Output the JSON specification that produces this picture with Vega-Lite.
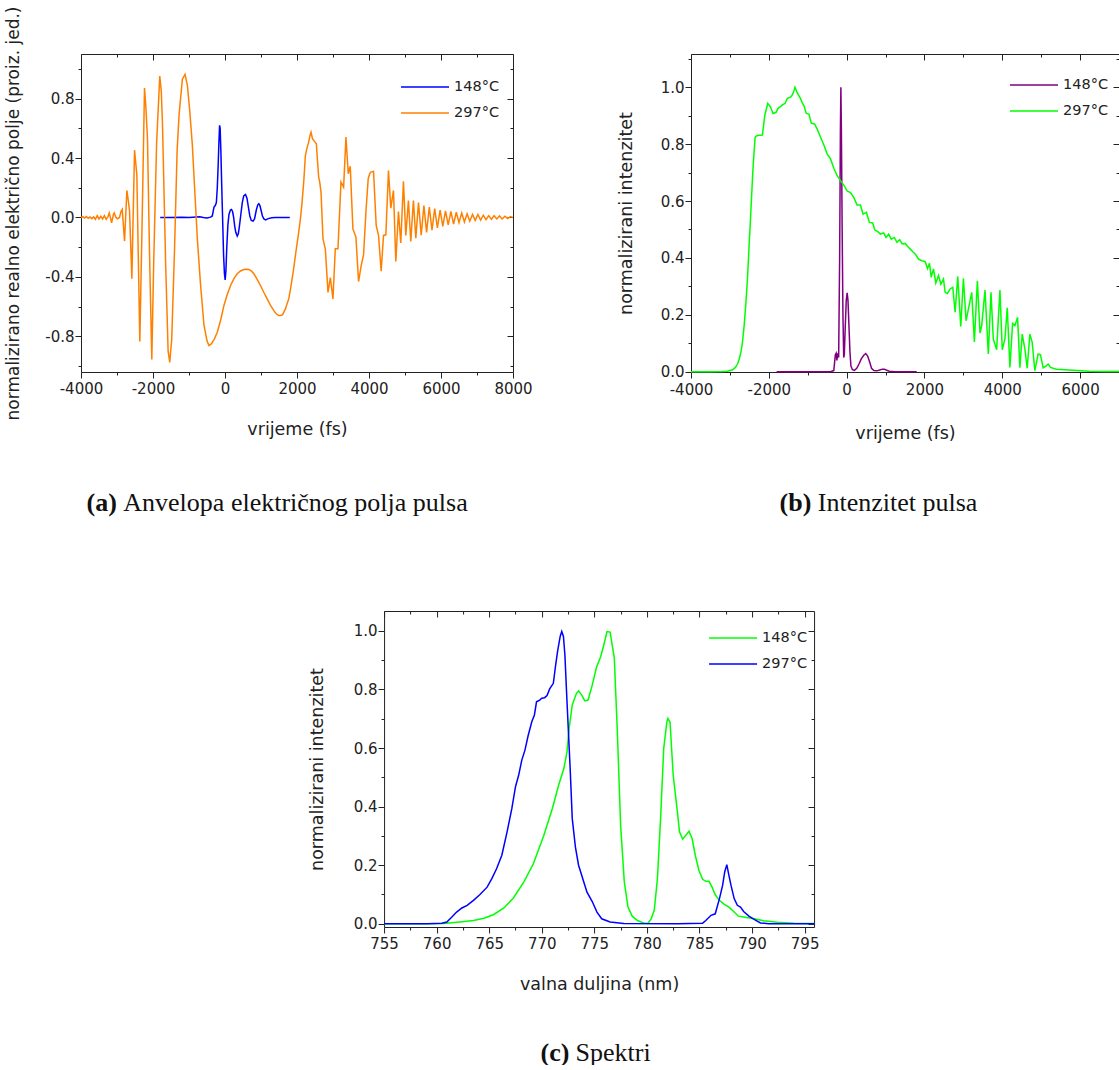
{
"$schema": "https://vega.github.io/schema/vega-lite/v6.json",
"background": "white",
"padding": {"left": 4, "top": 6, "right": 0, "bottom": 0},
"config": {
 "view": {"stroke": null},
 "axis": {"domainColor": "#222", "domainWidth": 1, "tickColor": "#222", "tickWidth": 1, "labelFont": "DejaVu Sans", "labelFontSize": 15, "labelColor": "#222", "titleFont": "DejaVu Sans", "titleFontSize": 17.5, "titleFontWeight": "normal", "titleColor": "#222", "grid": false, "labelFlush": false, "labelOverlap": false},
 "legend": {"labelFont": "DejaVu Sans", "labelFontSize": 14.5, "labelColor": "#222", "symbolType": "M-3,0H3", "symbolSize": 256, "symbolStrokeWidth": 1.5, "rowPadding": 10, "padding": 0, "labelOffset": 20}
},
"datasets": {
 "a": [
  {"s":"148°C","t":-1800,"v":0},{"s":"148°C","t":-1500,"v":0},{"s":"148°C","t":-1200,"v":0.001},{"s":"148°C","t":-1000,"v":0},{"s":"148°C","t":-800,"v":0.003},{"s":"148°C","t":-700,"v":0.004},{"s":"148°C","t":-600,"v":0},{"s":"148°C","t":-500,"v":-0.003},{"s":"148°C","t":-400,"v":0.002},{"s":"148°C","t":-353,"v":0.01},{"s":"148°C","t":-306,"v":0.07},{"s":"148°C","t":-270,"v":0.08},{"s":"148°C","t":-240,"v":0.1},{"s":"148°C","t":-214,"v":0.2},{"s":"148°C","t":-190,"v":0.35},{"s":"148°C","t":-170,"v":0.5},{"s":"148°C","t":-150,"v":0.62},{"s":"148°C","t":-135,"v":0.6},{"s":"148°C","t":-115,"v":0.45},{"s":"148°C","t":-95,"v":0.25},{"s":"148°C","t":-67,"v":0},{"s":"148°C","t":-40,"v":-0.25},{"s":"148°C","t":-15,"v":-0.38},{"s":"148°C","t":5,"v":-0.42},{"s":"148°C","t":25,"v":-0.36},{"s":"148°C","t":50,"v":-0.2},{"s":"148°C","t":80,"v":-0.05},{"s":"148°C","t":110,"v":0.02},{"s":"148°C","t":150,"v":0.05},{"s":"148°C","t":180,"v":0.054},{"s":"148°C","t":210,"v":0.04},{"s":"148°C","t":240,"v":0},{"s":"148°C","t":270,"v":-0.06},{"s":"148°C","t":300,"v":-0.1},{"s":"148°C","t":340,"v":-0.125},{"s":"148°C","t":370,"v":-0.11},{"s":"148°C","t":400,"v":-0.06},{"s":"148°C","t":440,"v":0.02},{"s":"148°C","t":480,"v":0.1},{"s":"148°C","t":520,"v":0.145},{"s":"148°C","t":570,"v":0.155},{"s":"148°C","t":610,"v":0.13},{"s":"148°C","t":650,"v":0.07},{"s":"148°C","t":690,"v":0.01},{"s":"148°C","t":730,"v":-0.02},{"s":"148°C","t":780,"v":-0.025},{"s":"148°C","t":820,"v":-0.01},{"s":"148°C","t":870,"v":0.05},{"s":"148°C","t":910,"v":0.085},{"s":"148°C","t":940,"v":0.092},{"s":"148°C","t":970,"v":0.08},{"s":"148°C","t":1000,"v":0.05},{"s":"148°C","t":1040,"v":0.01},{"s":"148°C","t":1080,"v":-0.01},{"s":"148°C","t":1130,"v":-0.016},{"s":"148°C","t":1200,"v":-0.008},{"s":"148°C","t":1300,"v":-0.002},{"s":"148°C","t":1400,"v":0},{"s":"148°C","t":1600,"v":0},{"s":"148°C","t":1800,"v":0},
  {"s":"297°C","t":-4000,"v":0},{"s":"297°C","t":-3950,"v":0.005},{"s":"297°C","t":-3900,"v":-0.004},{"s":"297°C","t":-3850,"v":0.006},{"s":"297°C","t":-3800,"v":-0.005},{"s":"297°C","t":-3750,"v":0.003},{"s":"297°C","t":-3700,"v":-0.008},{"s":"297°C","t":-3650,"v":0.004},{"s":"297°C","t":-3600,"v":-0.012},{"s":"297°C","t":-3550,"v":0.012},{"s":"297°C","t":-3500,"v":-0.01},{"s":"297°C","t":-3450,"v":0.008},{"s":"297°C","t":-3400,"v":-0.01},{"s":"297°C","t":-3350,"v":0.012},{"s":"297°C","t":-3300,"v":-0.012},{"s":"297°C","t":-3250,"v":0.006},{"s":"297°C","t":-3215,"v":0.031},{"s":"297°C","t":-3150,"v":-0.036},{"s":"297°C","t":-3100,"v":0.02},{"s":"297°C","t":-3077,"v":0.031},{"s":"297°C","t":-3030,"v":0},{"s":"297°C","t":-2984,"v":-0.009},{"s":"297°C","t":-2930,"v":0},{"s":"297°C","t":-2890,"v":0.04},{"s":"297°C","t":-2855,"v":0.054},{"s":"297°C","t":-2790,"v":-0.159},{"s":"297°C","t":-2726,"v":0.182},{"s":"297°C","t":-2690,"v":0.12},{"s":"297°C","t":-2652,"v":0.047},{"s":"297°C","t":-2587,"v":-0.413},{"s":"297°C","t":-2513,"v":0.453},{"s":"297°C","t":-2449,"v":0.288},{"s":"297°C","t":-2366,"v":-0.835},{"s":"297°C","t":-2300,"v":0},{"s":"297°C","t":-2236,"v":0.871},{"s":"297°C","t":-2200,"v":0.75},{"s":"297°C","t":-2153,"v":0.53},{"s":"297°C","t":-2100,"v":-0.2},{"s":"297°C","t":-2033,"v":-0.956},{"s":"297°C","t":-1980,"v":-0.3},{"s":"297°C","t":-1900,"v":0.5},{"s":"297°C","t":-1812,"v":0.952},{"s":"297°C","t":-1770,"v":0.85},{"s":"297°C","t":-1738,"v":0.642},{"s":"297°C","t":-1650,"v":-0.3},{"s":"297°C","t":-1580,"v":-0.9},{"s":"297°C","t":-1535,"v":-0.975},{"s":"297°C","t":-1480,"v":-0.82},{"s":"297°C","t":-1400,"v":-0.2},{"s":"297°C","t":-1330,"v":0.45},{"s":"297°C","t":-1276,"v":0.69},{"s":"297°C","t":-1184,"v":0.93},{"s":"297°C","t":-1110,"v":0.963},{"s":"297°C","t":-1045,"v":0.889},{"s":"297°C","t":-980,"v":0.72},{"s":"297°C","t":-907,"v":0.487},{"s":"297°C","t":-840,"v":0.18},{"s":"297°C","t":-768,"v":-0.144},{"s":"297°C","t":-680,"v":-0.45},{"s":"297°C","t":-583,"v":-0.727},{"s":"297°C","t":-500,"v":-0.83},{"s":"297°C","t":-445,"v":-0.862},{"s":"297°C","t":-380,"v":-0.851},{"s":"297°C","t":-300,"v":-0.82},{"s":"297°C","t":-214,"v":-0.772},{"s":"297°C","t":-120,"v":-0.69},{"s":"297°C","t":-29,"v":-0.592},{"s":"297°C","t":60,"v":-0.52},{"s":"297°C","t":155,"v":-0.458},{"s":"297°C","t":250,"v":-0.41},{"s":"297°C","t":340,"v":-0.379},{"s":"297°C","t":430,"v":-0.36},{"s":"297°C","t":525,"v":-0.35},{"s":"297°C","t":600,"v":-0.348},{"s":"297°C","t":663,"v":-0.35},{"s":"297°C","t":730,"v":-0.36},{"s":"297°C","t":802,"v":-0.379},{"s":"297°C","t":890,"v":-0.415},{"s":"297°C","t":986,"v":-0.458},{"s":"297°C","t":1080,"v":-0.505},{"s":"297°C","t":1171,"v":-0.548},{"s":"297°C","t":1260,"v":-0.59},{"s":"297°C","t":1356,"v":-0.627},{"s":"297°C","t":1430,"v":-0.65},{"s":"297°C","t":1494,"v":-0.66},{"s":"297°C","t":1550,"v":-0.66},{"s":"297°C","t":1600,"v":-0.654},{"s":"297°C","t":1679,"v":-0.615},{"s":"297°C","t":1725,"v":-0.58},{"s":"297°C","t":1771,"v":-0.548},{"s":"297°C","t":1820,"v":-0.48},{"s":"297°C","t":1864,"v":-0.413},{"s":"297°C","t":1910,"v":-0.34},{"s":"297°C","t":1956,"v":-0.256},{"s":"297°C","t":2000,"v":-0.18},{"s":"297°C","t":2048,"v":-0.099},{"s":"297°C","t":2100,"v":0},{"s":"297°C","t":2141,"v":0.103},{"s":"297°C","t":2190,"v":0.25},{"s":"297°C","t":2233,"v":0.417},{"s":"297°C","t":2280,"v":0.47},{"s":"297°C","t":2325,"v":0.507},{"s":"297°C","t":2360,"v":0.55},{"s":"297°C","t":2390,"v":0.574},{"s":"297°C","t":2430,"v":0.53},{"s":"297°C","t":2464,"v":0.519},{"s":"297°C","t":2538,"v":0.496},{"s":"297°C","t":2570,"v":0.38},{"s":"297°C","t":2602,"v":0.272},{"s":"297°C","t":2630,"v":0.24},{"s":"297°C","t":2667,"v":0.171},{"s":"297°C","t":2722,"v":-0.144},{"s":"297°C","t":2787,"v":-0.211},{"s":"297°C","t":2861,"v":-0.505},{"s":"297°C","t":2926,"v":-0.404},{"s":"297°C","t":2999,"v":-0.548},{"s":"297°C","t":3064,"v":-0.211},{"s":"297°C","t":3138,"v":-0.211},{"s":"297°C","t":3221,"v":0.238},{"s":"297°C","t":3295,"v":0.204},{"s":"297°C","t":3360,"v":0.541},{"s":"297°C","t":3424,"v":0.294},{"s":"297°C","t":3479,"v":0.345},{"s":"297°C","t":3553,"v":-0.077},{"s":"297°C","t":3637,"v":-0.132},{"s":"297°C","t":3710,"v":-0.431},{"s":"297°C","t":3784,"v":-0.323},{"s":"297°C","t":3849,"v":-0.251},{"s":"297°C","t":3914,"v":0.036},{"s":"297°C","t":3978,"v":0.261},{"s":"297°C","t":4020,"v":0.295},{"s":"297°C","t":4052,"v":0.305},{"s":"297°C","t":4126,"v":0.31},{"s":"297°C","t":4200,"v":-0.054},{"s":"297°C","t":4265,"v":-0.121},{"s":"297°C","t":4338,"v":-0.362},{"s":"297°C","t":4403,"v":-0.121},{"s":"297°C","t":4468,"v":-0.117},{"s":"297°C","t":4541,"v":0.316},{"s":"297°C","t":4606,"v":0.063},{"s":"297°C","t":4680,"v":0.182},{"s":"297°C","t":4745,"v":-0.296},{"s":"297°C","t":4818,"v":0.04},{"s":"297°C","t":4883,"v":-0.171},{"s":"297°C","t":4957,"v":0.243},{"s":"297°C","t":5022,"v":-0.121},{"s":"297°C","t":5095,"v":0.114},{"s":"297°C","t":5160,"v":-0.162},{"s":"297°C","t":5234,"v":0.114},{"s":"297°C","t":5300,"v":-0.14},{"s":"297°C","t":5375,"v":0.1},{"s":"297°C","t":5450,"v":-0.12},{"s":"297°C","t":5525,"v":0.08},{"s":"297°C","t":5600,"v":-0.1},{"s":"297°C","t":5675,"v":0.07},{"s":"297°C","t":5750,"v":-0.085},{"s":"297°C","t":5825,"v":0.06},{"s":"297°C","t":5900,"v":-0.07},{"s":"297°C","t":5975,"v":0.05},{"s":"297°C","t":6050,"v":-0.06},{"s":"297°C","t":6125,"v":0.045},{"s":"297°C","t":6200,"v":-0.05},{"s":"297°C","t":6275,"v":0.04},{"s":"297°C","t":6350,"v":-0.045},{"s":"297°C","t":6425,"v":0.035},{"s":"297°C","t":6500,"v":-0.035},{"s":"297°C","t":6575,"v":0.03},{"s":"297°C","t":6650,"v":-0.03},{"s":"297°C","t":6725,"v":0.025},{"s":"297°C","t":6800,"v":-0.025},{"s":"297°C","t":6875,"v":0.02},{"s":"297°C","t":6950,"v":-0.02},{"s":"297°C","t":7025,"v":0.02},{"s":"297°C","t":7100,"v":-0.018},{"s":"297°C","t":7175,"v":0.015},{"s":"297°C","t":7250,"v":-0.015},{"s":"297°C","t":7325,"v":0.012},{"s":"297°C","t":7400,"v":-0.012},{"s":"297°C","t":7475,"v":0.012},{"s":"297°C","t":7550,"v":-0.01},{"s":"297°C","t":7625,"v":0.01},{"s":"297°C","t":7700,"v":-0.01},{"s":"297°C","t":7775,"v":0.008},{"s":"297°C","t":7850,"v":-0.008},{"s":"297°C","t":7925,"v":0.006},{"s":"297°C","t":8000,"v":0}
 ],
 "b": [
  {"s":"148°C","t":-1800,"v":0},{"s":"148°C","t":-1500,"v":0},{"s":"148°C","t":-1000,"v":0},{"s":"148°C","t":-600,"v":0},{"s":"148°C","t":-400,"v":0.001},{"s":"148°C","t":-330,"v":0.004},{"s":"148°C","t":-290,"v":0.06},{"s":"148°C","t":-270,"v":0.065},{"s":"148°C","t":-250,"v":0.04},{"s":"148°C","t":-232,"v":0.065},{"s":"148°C","t":-205,"v":0.05},{"s":"148°C","t":-180,"v":0.4},{"s":"148°C","t":-160,"v":0.85},{"s":"148°C","t":-148,"v":1},{"s":"148°C","t":-135,"v":0.85},{"s":"148°C","t":-115,"v":0.5},{"s":"148°C","t":-95,"v":0.2},{"s":"148°C","t":-75,"v":0.05},{"s":"148°C","t":-60,"v":0.06},{"s":"148°C","t":-35,"v":0.16},{"s":"148°C","t":-10,"v":0.25},{"s":"148°C","t":13,"v":0.277},{"s":"148°C","t":35,"v":0.25},{"s":"148°C","t":60,"v":0.16},{"s":"148°C","t":85,"v":0.07},{"s":"148°C","t":110,"v":0.02},{"s":"148°C","t":150,"v":0.007},{"s":"148°C","t":200,"v":0.005},{"s":"148°C","t":260,"v":0.012},{"s":"148°C","t":320,"v":0.028},{"s":"148°C","t":380,"v":0.046},{"s":"148°C","t":440,"v":0.058},{"s":"148°C","t":490,"v":0.064},{"s":"148°C","t":540,"v":0.055},{"s":"148°C","t":590,"v":0.035},{"s":"148°C","t":640,"v":0.012},{"s":"148°C","t":700,"v":0.004},{"s":"148°C","t":780,"v":0.003},{"s":"148°C","t":850,"v":0.006},{"s":"148°C","t":920,"v":0.009},{"s":"148°C","t":970,"v":0.009},{"s":"148°C","t":1030,"v":0.005},{"s":"148°C","t":1100,"v":0.002},{"s":"148°C","t":1200,"v":0.001},{"s":"148°C","t":1400,"v":0},{"s":"148°C","t":1800,"v":0},
  {"s":"297°C","t":-4000,"v":0},{"s":"297°C","t":-3500,"v":0},{"s":"297°C","t":-3200,"v":0.0005},{"s":"297°C","t":-3061,"v":0.002},{"s":"297°C","t":-2933,"v":0.007},{"s":"297°C","t":-2860,"v":0.015},{"s":"297°C","t":-2805,"v":0.027},{"s":"297°C","t":-2760,"v":0.045},{"s":"297°C","t":-2719,"v":0.068},{"s":"297°C","t":-2680,"v":0.1},{"s":"297°C","t":-2634,"v":0.162},{"s":"297°C","t":-2590,"v":0.24},{"s":"297°C","t":-2549,"v":0.326},{"s":"297°C","t":-2515,"v":0.42},{"s":"297°C","t":-2480,"v":0.513},{"s":"297°C","t":-2445,"v":0.61},{"s":"297°C","t":-2412,"v":0.701},{"s":"297°C","t":-2380,"v":0.77},{"s":"297°C","t":-2352,"v":0.824},{"s":"297°C","t":-2310,"v":0.83},{"s":"297°C","t":-2250,"v":0.831},{"s":"297°C","t":-2164,"v":0.832},{"s":"297°C","t":-2105,"v":0.9},{"s":"297°C","t":-2028,"v":0.943},{"s":"297°C","t":-1980,"v":0.935},{"s":"297°C","t":-1951,"v":0.929},{"s":"297°C","t":-1891,"v":0.908},{"s":"297°C","t":-1814,"v":0.912},{"s":"297°C","t":-1763,"v":0.926},{"s":"297°C","t":-1700,"v":0.932},{"s":"297°C","t":-1652,"v":0.938},{"s":"297°C","t":-1584,"v":0.943},{"s":"297°C","t":-1524,"v":0.961},{"s":"297°C","t":-1439,"v":0.965},{"s":"297°C","t":-1396,"v":0.973},{"s":"297°C","t":-1360,"v":0.985},{"s":"297°C","t":-1328,"v":1},{"s":"297°C","t":-1268,"v":0.98},{"s":"297°C","t":-1182,"v":0.959},{"s":"297°C","t":-1140,"v":0.945},{"s":"297°C","t":-1097,"v":0.935},{"s":"297°C","t":-1037,"v":0.908},{"s":"297°C","t":-969,"v":0.906},{"s":"297°C","t":-909,"v":0.874},{"s":"297°C","t":-824,"v":0.871},{"s":"297°C","t":-756,"v":0.853},{"s":"297°C","t":-670,"v":0.824},{"s":"297°C","t":-585,"v":0.797},{"s":"297°C","t":-499,"v":0.765},{"s":"297°C","t":-414,"v":0.748},{"s":"297°C","t":-329,"v":0.715},{"s":"297°C","t":-243,"v":0.689},{"s":"297°C","t":-158,"v":0.672},{"s":"297°C","t":-73,"v":0.656},{"s":"297°C","t":13,"v":0.636},{"s":"297°C","t":98,"v":0.63},{"s":"297°C","t":184,"v":0.613},{"s":"297°C","t":269,"v":0.586},{"s":"297°C","t":354,"v":0.586},{"s":"297°C","t":423,"v":0.554},{"s":"297°C","t":508,"v":0.56},{"s":"297°C","t":585,"v":0.525},{"s":"297°C","t":670,"v":0.523},{"s":"297°C","t":721,"v":0.499},{"s":"297°C","t":807,"v":0.492},{"s":"297°C","t":867,"v":0.484},{"s":"297°C","t":952,"v":0.488},{"s":"297°C","t":1012,"v":0.472},{"s":"297°C","t":1080,"v":0.484},{"s":"297°C","t":1148,"v":0.466},{"s":"297°C","t":1225,"v":0.472},{"s":"297°C","t":1293,"v":0.455},{"s":"297°C","t":1362,"v":0.464},{"s":"297°C","t":1430,"v":0.449},{"s":"297°C","t":1507,"v":0.451},{"s":"297°C","t":1570,"v":0.44},{"s":"297°C","t":1635,"v":0.431},{"s":"297°C","t":1700,"v":0.422},{"s":"297°C","t":1763,"v":0.414},{"s":"297°C","t":1848,"v":0.396},{"s":"297°C","t":1934,"v":0.39},{"s":"297°C","t":2019,"v":0.387},{"s":"297°C","t":2079,"v":0.363},{"s":"297°C","t":2130,"v":0.381},{"s":"297°C","t":2173,"v":0.332},{"s":"297°C","t":2233,"v":0.361},{"s":"297°C","t":2292,"v":0.312},{"s":"297°C","t":2361,"v":0.338},{"s":"297°C","t":2421,"v":0.308},{"s":"297°C","t":2489,"v":0.326},{"s":"297°C","t":2532,"v":0.279},{"s":"297°C","t":2591,"v":0.275},{"s":"297°C","t":2660,"v":0.291},{"s":"297°C","t":2728,"v":0.297},{"s":"297°C","t":2788,"v":0.209},{"s":"297°C","t":2856,"v":0.335},{"s":"297°C","t":2933,"v":0.159},{"s":"297°C","t":3001,"v":0.328},{"s":"297°C","t":3070,"v":0.179},{"s":"297°C","t":3129,"v":0.22},{"s":"297°C","t":3215,"v":0.279},{"s":"297°C","t":3283,"v":0.105},{"s":"297°C","t":3360,"v":0.32},{"s":"297°C","t":3428,"v":0.136},{"s":"297°C","t":3471,"v":0.162},{"s":"297°C","t":3556,"v":0.287},{"s":"297°C","t":3641,"v":0.062},{"s":"297°C","t":3710,"v":0.279},{"s":"297°C","t":3770,"v":0.115},{"s":"297°C","t":3855,"v":0.077},{"s":"297°C","t":3940,"v":0.287},{"s":"297°C","t":4000,"v":0.077},{"s":"297°C","t":4068,"v":0.115},{"s":"297°C","t":4128,"v":0.225},{"s":"297°C","t":4196,"v":0.015},{"s":"297°C","t":4265,"v":0.17},{"s":"297°C","t":4324,"v":0.162},{"s":"297°C","t":4393,"v":0.191},{"s":"297°C","t":4453,"v":0.014},{"s":"297°C","t":4512,"v":0.132},{"s":"297°C","t":4581,"v":0.08},{"s":"297°C","t":4641,"v":0.012},{"s":"297°C","t":4709,"v":0.132},{"s":"297°C","t":4769,"v":0.103},{"s":"297°C","t":4837,"v":0.004},{"s":"297°C","t":4922,"v":0.062},{"s":"297°C","t":4982,"v":0.059},{"s":"297°C","t":5050,"v":0.014},{"s":"297°C","t":5120,"v":0.02},{"s":"297°C","t":5178,"v":0.027},{"s":"297°C","t":5240,"v":0.015},{"s":"297°C","t":5306,"v":0.012},{"s":"297°C","t":5392,"v":0.009},{"s":"297°C","t":5600,"v":0.007},{"s":"297°C","t":5819,"v":0.005},{"s":"297°C","t":6246,"v":0.002},{"s":"297°C","t":6600,"v":0.001},{"s":"297°C","t":7000,"v":0.001}
 ],
 "c": [
  {"s":"148°C","w":755,"v":0},{"s":"148°C","w":759.06,"v":0},{"s":"148°C","w":760.65,"v":0.001},{"s":"148°C","w":762.2,"v":0.006},{"s":"148°C","w":763.5,"v":0.011},{"s":"148°C","w":764.5,"v":0.019},{"s":"148°C","w":765.4,"v":0.031},{"s":"148°C","w":766.4,"v":0.054},{"s":"148°C","w":767.3,"v":0.088},{"s":"148°C","w":768.3,"v":0.143},{"s":"148°C","w":769.2,"v":0.205},{"s":"148°C","w":770.2,"v":0.302},{"s":"148°C","w":771.0,"v":0.393},{"s":"148°C","w":771.6,"v":0.473},{"s":"148°C","w":772.1,"v":0.53},{"s":"148°C","w":772.4,"v":0.587},{"s":"148°C","w":772.6,"v":0.667},{"s":"148°C","w":772.9,"v":0.747},{"s":"148°C","w":773.3,"v":0.787},{"s":"148°C","w":773.5,"v":0.795},{"s":"148°C","w":773.8,"v":0.781},{"s":"148°C","w":774.1,"v":0.761},{"s":"148°C","w":774.4,"v":0.764},{"s":"148°C","w":774.8,"v":0.815},{"s":"148°C","w":775.2,"v":0.875},{"s":"148°C","w":775.6,"v":0.912},{"s":"148°C","w":775.9,"v":0.952},{"s":"148°C","w":776.2,"v":0.998},{"s":"148°C","w":776.5,"v":0.996},{"s":"148°C","w":776.9,"v":0.907},{"s":"148°C","w":777.2,"v":0.644},{"s":"148°C","w":777.5,"v":0.336},{"s":"148°C","w":777.85,"v":0.143},{"s":"148°C","w":778.2,"v":0.057},{"s":"148°C","w":778.6,"v":0.026},{"s":"148°C","w":779.1,"v":0.011},{"s":"148°C","w":779.7,"v":0.003},{"s":"148°C","w":780.1,"v":0.001},{"s":"148°C","w":780.4,"v":0.017},{"s":"148°C","w":780.7,"v":0.046},{"s":"148°C","w":781.0,"v":0.154},{"s":"148°C","w":781.3,"v":0.359},{"s":"148°C","w":781.6,"v":0.599},{"s":"148°C","w":781.9,"v":0.69},{"s":"148°C","w":782.0,"v":0.701},{"s":"148°C","w":782.2,"v":0.688},{"s":"148°C","w":782.5,"v":0.507},{"s":"148°C","w":782.9,"v":0.382},{"s":"148°C","w":783.1,"v":0.314},{"s":"148°C","w":783.4,"v":0.289},{"s":"148°C","w":783.7,"v":0.302},{"s":"148°C","w":784.0,"v":0.316},{"s":"148°C","w":784.3,"v":0.291},{"s":"148°C","w":784.6,"v":0.234},{"s":"148°C","w":784.95,"v":0.182},{"s":"148°C","w":785.3,"v":0.152},{"s":"148°C","w":785.6,"v":0.145},{"s":"148°C","w":785.9,"v":0.145},{"s":"148°C","w":786.2,"v":0.125},{"s":"148°C","w":786.5,"v":0.099},{"s":"148°C","w":786.9,"v":0.08},{"s":"148°C","w":787.3,"v":0.068},{"s":"148°C","w":787.8,"v":0.057},{"s":"148°C","w":788.3,"v":0.04},{"s":"148°C","w":788.7,"v":0.026},{"s":"148°C","w":789.2,"v":0.023},{"s":"148°C","w":790.2,"v":0.017},{"s":"148°C","w":791.1,"v":0.01},{"s":"148°C","w":792.4,"v":0.005},{"s":"148°C","w":794.0,"v":0.002},{"s":"148°C","w":795.9,"v":0.001},
  {"s":"297°C","w":755,"v":0},{"s":"297°C","w":759.06,"v":0},{"s":"297°C","w":760.49,"v":0.002},{"s":"297°C","w":760.97,"v":0.006},{"s":"297°C","w":761.45,"v":0.023},{"s":"297°C","w":761.9,"v":0.04},{"s":"297°C","w":762.4,"v":0.054},{"s":"297°C","w":762.9,"v":0.063},{"s":"297°C","w":763.5,"v":0.08},{"s":"297°C","w":764.1,"v":0.099},{"s":"297°C","w":764.8,"v":0.125},{"s":"297°C","w":765.25,"v":0.154},{"s":"297°C","w":765.7,"v":0.188},{"s":"297°C","w":766.2,"v":0.234},{"s":"297°C","w":766.7,"v":0.314},{"s":"297°C","w":767.15,"v":0.393},{"s":"297°C","w":767.5,"v":0.468},{"s":"297°C","w":767.8,"v":0.507},{"s":"297°C","w":768.1,"v":0.559},{"s":"297°C","w":768.4,"v":0.593},{"s":"297°C","w":768.7,"v":0.642},{"s":"297°C","w":769.05,"v":0.69},{"s":"297°C","w":769.3,"v":0.713},{"s":"297°C","w":769.5,"v":0.758},{"s":"297°C","w":769.8,"v":0.764},{"s":"297°C","w":770.0,"v":0.77},{"s":"297°C","w":770.27,"v":0.772},{"s":"297°C","w":770.5,"v":0.779},{"s":"297°C","w":770.75,"v":0.802},{"s":"297°C","w":771.1,"v":0.821},{"s":"297°C","w":771.3,"v":0.878},{"s":"297°C","w":771.5,"v":0.929},{"s":"297°C","w":771.75,"v":0.981},{"s":"297°C","w":771.9,"v":0.998},{"s":"297°C","w":772.06,"v":0.981},{"s":"297°C","w":772.2,"v":0.918},{"s":"297°C","w":772.4,"v":0.758},{"s":"297°C","w":772.7,"v":0.53},{"s":"297°C","w":772.9,"v":0.359},{"s":"297°C","w":773.2,"v":0.262},{"s":"297°C","w":773.5,"v":0.2},{"s":"297°C","w":773.9,"v":0.154},{"s":"297°C","w":774.3,"v":0.108},{"s":"297°C","w":774.8,"v":0.076},{"s":"297°C","w":775.25,"v":0.04},{"s":"297°C","w":775.7,"v":0.017},{"s":"297°C","w":776.5,"v":0.006},{"s":"297°C","w":777.8,"v":0.001},{"s":"297°C","w":782.9,"v":0},{"s":"297°C","w":785.3,"v":0.002},{"s":"297°C","w":785.6,"v":0.011},{"s":"297°C","w":786.1,"v":0.029},{"s":"297°C","w":786.5,"v":0.034},{"s":"297°C","w":786.9,"v":0.086},{"s":"297°C","w":787.2,"v":0.131},{"s":"297°C","w":787.4,"v":0.177},{"s":"297°C","w":787.6,"v":0.202},{"s":"297°C","w":787.8,"v":0.165},{"s":"297°C","w":788.0,"v":0.131},{"s":"297°C","w":788.3,"v":0.086},{"s":"297°C","w":788.6,"v":0.063},{"s":"297°C","w":788.9,"v":0.057},{"s":"297°C","w":789.2,"v":0.042},{"s":"297°C","w":789.7,"v":0.026},{"s":"297°C","w":790.2,"v":0.015},{"s":"297°C","w":790.8,"v":0.003},{"s":"297°C","w":791.6,"v":0},{"s":"297°C","w":795.9,"v":0}
 ]
},
"vconcat": [
 {
  "hconcat": [
   {
    "width": 432, "height": 318,
    "data": {"name": "a"},
    "layer": [
     {
      "mark": {"type": "line", "strokeWidth": 1.5},
      "encoding": {
       "x": {"field": "t", "type": "quantitative", "scale": {"domain": [-4000, 8000], "nice": false, "zero": false},
        "axis": {"orient": "bottom", "values": [-4000,-3000,-2000,-1000,0,1000,2000,3000,4000,5000,6000,7000,8000],
         "labelExpr": "datum.value % 2000 == 0 ? replace(format(datum.value, 'd'), '\u2212', '-') : ''",
         "tickSize": {"condition": {"test": "datum.value % 2000 == 0", "value": 6}, "value": 3},
         "labelPadding": 3, "title": "vrijeme (fs)", "titlePadding": 24}},
       "y": {"field": "v", "type": "quantitative", "scale": {"domain": [-1.04, 1.1], "nice": false, "zero": false},
        "axis": {"orient": "left", "values": [-1,-0.8,-0.6,-0.4,-0.2,0,0.2,0.4,0.6,0.8,1],
         "labelExpr": "round(datum.value*10) % 4 == 0 ? replace(format(datum.value, '.1f'), '\u2212', '-') : ''",
         "tickSize": {"condition": {"test": "round(datum.value*10) % 4 == 0", "value": 6}, "value": 3},
         "labelPadding": 1, "title": "normalizirano realno električno polje (proiz. jed.)", "titleFontSize": 17, "titlePadding": 22}},
       "color": {"field": "s", "type": "nominal", "scale": {"domain": ["148°C", "297°C"], "range": ["#0000ff", "#ff8000"]},
        "legend": {"orient": "none", "legendX": 335, "legendY": 24, "title": null, "rowPadding": 10}}
      }
     },
     {
      "mark": {"type": "line", "opacity": 0},
      "encoding": {
       "x": {"field": "t", "type": "quantitative", "axis": {"orient": "top", "values": [-4000,-3000,-2000,-1000,0,1000,2000,3000,4000,5000,6000,7000,8000], "labels": false, "title": null, "tickSize": {"condition": {"test": "datum.value % 2000 == 0", "value": -6}, "value": -3}}},
       "y": {"field": "v", "type": "quantitative", "axis": {"orient": "right", "values": [-1,-0.8,-0.6,-0.4,-0.2,0,0.2,0.4,0.6,0.8,1], "labels": false, "title": null, "tickSize": {"condition": {"test": "round(datum.value*10) % 4 == 0", "value": -6}, "value": -3}}}
      }
     },
     {
      "mark": {"type": "point", "opacity": 0},
      "encoding": {
       "x": {"field": "t", "type": "quantitative", "axis": {"orient": "bottom", "domain": false, "ticks": false, "tickSize": 0, "values": [-3861, -2839],
        "labelExpr": "datum.value < -3000 ? '(a)' : 'Anvelopa električnog polja pulsa'",
        "labelAlign": "left", "labelBaseline": "top", "labelFont": "Liberation Serif", "labelFontSize": 26, "labelColor": "#111",
        "labelFontWeight": {"condition": {"test": "datum.value < -3000", "value": "bold"}, "value": "normal"},
        "labelPadding": 117, "labelLimit": 1000, "labelBound": false, "title": null}}
      }
     }
    ],
    "resolve": {"axis": {"x": "independent", "y": "independent"}}
   },
   {
    "width": 428, "height": 318,
    "data": {"name": "b"},
    "layer": [
     {
      "mark": {"type": "line", "strokeWidth": 1.5},
      "encoding": {
       "x": {"field": "t", "type": "quantitative", "scale": {"domain": [-4000, 7000], "nice": false, "zero": false},
        "axis": {"orient": "bottom", "values": [-4000,-3000,-2000,-1000,0,1000,2000,3000,4000,5000,6000,7000],
         "labelExpr": "datum.value % 2000 == 0 ? replace(format(datum.value, 'd'), '\u2212', '-') : ''",
         "tickSize": {"condition": {"test": "datum.value % 2000 == 0", "value": 6}, "value": 3},
         "labelPadding": 4, "title": "vrijeme (fs)", "titlePadding": 27}},
       "y": {"field": "v", "type": "quantitative", "scale": {"domain": [-0.001, 1.117], "nice": false, "zero": false},
        "axis": {"orient": "left", "values": [0,0.1,0.2,0.3,0.4,0.5,0.6,0.7,0.8,0.9,1,1.1],
         "labelExpr": "round(datum.value*10) % 2 == 0 ? format(datum.value, '.1f') : ''",
         "tickSize": {"condition": {"test": "round(datum.value*10) % 2 == 0", "value": 6}, "value": 3},
         "labelPadding": 1, "title": "normalizirani intenzitet", "titlePadding": 25}},
       "color": {"field": "s", "type": "nominal", "scale": {"domain": ["148°C", "297°C"], "range": ["#800080", "#00ff00"]},
        "legend": {"orient": "none", "legendX": 334, "legendY": 22, "title": null, "rowPadding": 10}}
      }
     },
     {
      "mark": {"type": "line", "opacity": 0},
      "encoding": {
       "x": {"field": "t", "type": "quantitative", "axis": {"orient": "top", "values": [-4000,-3000,-2000,-1000,0,1000,2000,3000,4000,5000,6000,7000], "labels": false, "title": null, "tickSize": {"condition": {"test": "datum.value % 2000 == 0", "value": -6}, "value": -3}}},
       "y": {"field": "v", "type": "quantitative", "axis": {"orient": "right", "values": [0,0.1,0.2,0.3,0.4,0.5,0.6,0.7,0.8,0.9,1,1.1], "labels": false, "title": null, "tickSize": {"condition": {"test": "round(datum.value*10) % 2 == 0", "value": -6}, "value": -3}}}
      }
     },
     {
      "mark": {"type": "point", "opacity": 0},
      "encoding": {
       "x": {"field": "t", "type": "quantitative", "axis": {"orient": "bottom", "domain": false, "ticks": false, "tickSize": 0, "values": [-1738, -754],
        "labelExpr": "datum.value < -1000 ? '(b)' : 'Intenzitet pulsa'",
        "labelAlign": "left", "labelBaseline": "top", "labelFont": "Liberation Serif", "labelFontSize": 26, "labelColor": "#111",
        "labelFontWeight": {"condition": {"test": "datum.value < -1000", "value": "bold"}, "value": "normal"},
        "labelPadding": 117, "labelLimit": 1000, "labelBound": false, "title": null}}
      }
     }
    ],
    "resolve": {"axis": {"x": "independent", "y": "independent"}}
   }
  ],
  "spacing": 178,
  "bounds": "flush",
  "resolve": {"scale": {"color": "independent"}, "legend": {"color": "independent"}}
 },
 {
  "width": 430, "height": 316,
  "data": {"name": "c"},
  "layer": [
   {
    "mark": {"type": "line", "strokeWidth": 1.5},
    "encoding": {
     "x": {"field": "w", "type": "quantitative", "scale": {"domain": [755, 795.9], "nice": false, "zero": false},
      "axis": {"orient": "bottom", "values": [755,757.5,760,762.5,765,767.5,770,772.5,775,777.5,780,782.5,785,787.5,790,792.5,795],
       "labelExpr": "datum.value % 5 == 0 ? format(datum.value, 'd') : ''",
       "tickSize": {"condition": {"test": "datum.value % 5 == 0", "value": 6}, "value": 3},
       "labelPadding": 3, "title": "valna duljina (nm)", "titlePadding": 24}},
     "y": {"field": "v", "type": "quantitative", "scale": {"domain": [-0.011, 1.068], "nice": false, "zero": false},
      "axis": {"orient": "left", "values": [0,0.1,0.2,0.3,0.4,0.5,0.6,0.7,0.8,0.9,1],
       "labelExpr": "round(datum.value*10) % 2 == 0 ? format(datum.value, '.1f') : ''",
       "tickSize": {"condition": {"test": "round(datum.value*10) % 2 == 0", "value": 6}, "value": 3},
       "labelPadding": 1, "title": "normalizirani intenzitet", "titlePadding": 27}},
     "color": {"field": "s", "type": "nominal", "scale": {"domain": ["148°C", "297°C"], "range": ["#00ff00", "#0000ff"]},
      "legend": {"orient": "none", "legendX": 340, "legendY": 18, "title": null, "rowPadding": 10}}
    }
   },
   {
    "mark": {"type": "line", "opacity": 0},
    "encoding": {
     "x": {"field": "w", "type": "quantitative", "axis": {"orient": "top", "values": [755,757.5,760,762.5,765,767.5,770,772.5,775,777.5,780,782.5,785,787.5,790,792.5,795], "labels": false, "title": null, "tickSize": {"condition": {"test": "datum.value % 5 == 0", "value": -6}, "value": -3}}},
     "y": {"field": "v", "type": "quantitative", "axis": {"orient": "right", "values": [0,0.1,0.2,0.3,0.4,0.5,0.6,0.7,0.8,0.9,1], "labels": false, "title": null, "tickSize": {"condition": {"test": "round(datum.value*10) % 2 == 0", "value": -6}, "value": -3}}}
    }
   },
   {
    "mark": {"type": "point", "opacity": 0},
    "encoding": {
     "x": {"field": "w", "type": "quantitative", "axis": {"orient": "bottom", "domain": false, "ticks": false, "tickSize": 0, "values": [769.84, 773.17],
      "labelExpr": "datum.value < 770 ? '(c)' : 'Spektri'",
      "labelAlign": "left", "labelBaseline": "top", "labelFont": "Liberation Serif", "labelFontSize": 26, "labelColor": "#111",
      "labelFontWeight": {"condition": {"test": "datum.value < 770", "value": "bold"}, "value": "normal"},
      "labelPadding": 112, "labelLimit": 1000, "labelBound": false, "title": null}}
    }
   }
  ],
  "resolve": {"axis": {"x": "independent", "y": "independent"}}
 }
],
"spacing": 95,
"center": true,
"resolve": {"scale": {"color": "independent"}, "legend": {"color": "independent"}}
}
